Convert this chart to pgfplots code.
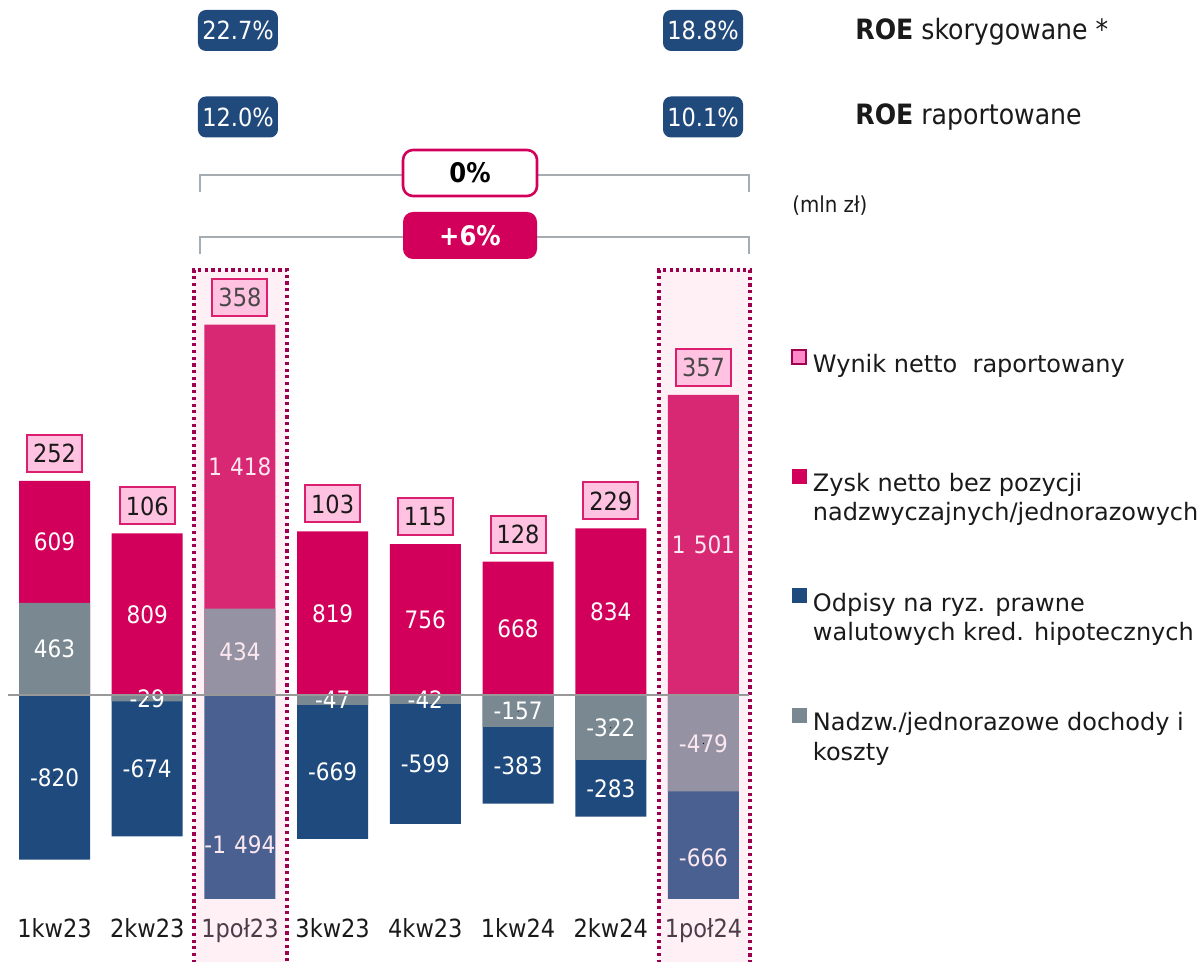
\documentclass[border=0pt]{standalone}
\usepackage{pgfplots}
\pgfplotsset{compat=1.18}
\usepackage{pgfplotstable}
\usepackage{fontspec}
\setmainfont{DejaVu Sans Condensed}
\newfontfamily\legfont{DejaVu Sans}

\definecolor{qPink}{HTML}{D2005A}
\definecolor{qGray}{HTML}{7A8891}
\definecolor{qBlue}{HTML}{1F4A7D}
\definecolor{hPink}{HTML}{D92873}
\definecolor{hGray}{HTML}{9593A3}
\definecolor{hBlue}{HTML}{4A6090}
\definecolor{hTxt}{HTML}{FCE8F0}
\definecolor{netFill}{HTML}{FFC2E1}
\definecolor{netDraw}{HTML}{DC1E6E}
\definecolor{hlFill}{HTML}{FFF0F6}
\definecolor{hlDot}{HTML}{9E0050}
\definecolor{roeBlue}{HTML}{214A7C}
\definecolor{brk}{HTML}{A5ADB2}
\definecolor{txt}{HTML}{1A1A1A}
\definecolor{halfTxt}{HTML}{4B3C48}
\definecolor{legW}{HTML}{FF88C8}
\definecolor{legWd}{HTML}{A0004F}
\definecolor{zeroLine}{HTML}{999999}

\pgfplotstableread{
x pink gray blue net
0 609 463 -820 252
1 809 -29 -674 106
3 819 -47 -669 103
4 756 -42 -599 115
5 668 -157 -383 128
6 834 -322 -283 229
}\quarters
\pgfplotstableread{
x pink gray blue net
2 1418 434 -1494 358
7 1501 -479 -666 357
}\halves

\pgfplotsset{
  netbox/.style={every node near coord/.append style={anchor=south, yshift=4pt,
      fill=netFill, draw=netDraw, line width=1pt, minimum width=27.5pt,
      minimum height=18.5pt, inner sep=0pt, text=txt,
      font=\fontsize{12.5}{14}\selectfont}},
  barlab/.style={only marks, mark=*, mark size=0.01pt,
      mark options={draw=none, fill=none}, forget plot,
      nodes near coords, point meta=explicit,
      every node near coord/.append style={anchor=center, text=#1,
      font=\fontsize{12}{14}\selectfont}},
  mybar/.style={ybar, bar width=35.5pt, bar shift=0pt, draw=none, fill=#1, forget plot},
}

\begin{document}
\begin{tikzpicture}
\begin{axis}[
  set layers,
  scale only axis, width=602pt, height=449.5pt,
  xmin=-0.588, xmax=12.399, ymin=-1016, ymax=3472.6,
  clip mode=individual,
  axis line style={draw=none}, major tick style={draw=none},
  ytick=\empty,
  xtick={0,1,2,3,4,5,6,7},
  xticklabels={1kw23,2kw23,\textcolor{halfTxt}{1poł23},3kw23,4kw23,1kw24,2kw24,\textcolor{halfTxt}{1poł24}},
  xticklabel style={anchor=base, yshift=-19.5pt, font=\fontsize{12.5}{15}\selectfont, text=txt},
  /pgf/number format/fixed,
  /pgf/number format/precision=0,
  /pgf/number format/1000 sep={\hspace{0.34em}},
  /pgf/number format/assume math mode=true,
  legend style={at={(axis cs:7.944,1731.6)}, anchor=north west, draw=none, fill=none,
    inner sep=0pt, outer sep=0pt, row sep=0pt, column sep=3pt,
    font=\legfont\fontsize{12}{15}\selectfont, text=txt,
    nodes={inner sep=0pt, outer sep=0pt, text height=10pt, text depth=4.6pt}},
  legend cell align=left,
]
% highlight boxes
\begin{pgfonlayer}{axis background}
\fill[hlFill] (axis cs:1.505,2124.5) rectangle (axis cs:2.508,-1335);
\fill[hlFill] (axis cs:6.520,2124.5) rectangle (axis cs:7.502,-1335);
\draw[hlDot, line width=1.6pt, dash pattern=on 1.6pt off 1.75pt]
  (axis cs:1.505,-1335) -- (axis cs:1.505,2124.5) -- (axis cs:2.508,2124.5) -- (axis cs:2.508,-1335);
\draw[hlDot, line width=1.6pt, dash pattern=on 1.6pt off 1.75pt]
  (axis cs:6.520,-1335) -- (axis cs:6.520,2124.5) -- (axis cs:7.502,2124.5) -- (axis cs:7.502,-1335);
\end{pgfonlayer}

% legend entries
\addlegendimage{legend image code/.code={\draw[fill=legW, draw=legWd, line width=1pt] (0pt,1.5pt) rectangle (7pt,8.5pt);}}
\addlegendentry{Wynik netto\ \ raportowany}
\addlegendimage{empty legend}\addlegendentry{}
\addlegendimage{empty legend}\addlegendentry{}
\addlegendimage{empty legend}\addlegendentry{}
\addlegendimage{legend image code/.code={\fill[qPink] (0pt,1.5pt) rectangle (7pt,8.5pt);}}
\addlegendentry{Zysk netto bez pozycji}
\addlegendimage{empty legend}\addlegendentry{nadzwyczajnych/jednorazowych}
\addlegendimage{empty legend}\addlegendentry{}
\addlegendimage{empty legend}\addlegendentry{}
\addlegendimage{legend image code/.code={\fill[qBlue] (0pt,1.5pt) rectangle (7pt,8.5pt);}}
\addlegendentry{Odpisy na ryz. prawne}
\addlegendimage{empty legend}\addlegendentry{walutowych kred. hipotecznych}
\addlegendimage{empty legend}\addlegendentry{}
\addlegendimage{empty legend}\addlegendentry{}
\addlegendimage{legend image code/.code={\fill[qGray] (0pt,1.5pt) rectangle (7pt,8.5pt);}}
\addlegendentry{Nadzw./jednorazowe dochody i}
\addlegendimage{empty legend}\addlegendentry{koszty}

% quarters bars
\addplot[mybar=qPink, nodes near coords, point meta=explicit, netbox]
  table[x=x, y expr={\thisrow{pink}+max(\thisrow{gray},0)}, meta=net] {\quarters};
\addplot[mybar=qBlue] table[x=x, y expr={\thisrow{blue}+min(\thisrow{gray},0)}] {\quarters};
\addplot[mybar=qGray] table[x=x, y=gray] {\quarters};
% half-year bars
\addplot[mybar=hPink, nodes near coords, point meta=explicit, netbox,
  every node near coord/.append style={text=black!72}]
  table[x=x, y expr={\thisrow{pink}+max(\thisrow{gray},0)}, meta=net] {\halves};
\addplot[mybar=hBlue] table[x=x, y expr={\thisrow{blue}+min(\thisrow{gray},0)}] {\halves};
\addplot[mybar=hGray] table[x=x, y=gray] {\halves};

% labels
\addplot[barlab=white] table[x=x, y expr={max(\thisrow{gray},0)+\thisrow{pink}/2}, meta=pink] {\quarters};
\addplot[barlab=white] table[x=x, y expr={\thisrow{gray}/2}, meta=gray] {\quarters};
\addplot[barlab=white] table[x=x, y expr={min(\thisrow{gray},0)+\thisrow{blue}/2}, meta=blue] {\quarters};
\addplot[barlab=hTxt] table[x=x, y expr={max(\thisrow{gray},0)+\thisrow{pink}/2}, meta=pink] {\halves};
\addplot[barlab=hTxt] table[x=x, y expr={\thisrow{gray}/2}, meta=gray] {\halves};
\addplot[barlab=hTxt] table[x=x, y expr={min(\thisrow{gray},0)+\thisrow{blue}/2}, meta=blue] {\halves};

% zero line
\draw[zeroLine, line width=1pt] (axis cs:-0.5016,0) -- (axis cs:7.491,0);

% ROE boxes
\tikzset{roe/.style={fill=roeBlue, text=white, rounded corners=4pt, minimum width=40pt,
  minimum height=20.5pt, inner sep=0pt, font=\fontsize{12.5}{14}\selectfont}}
\node[roe] at (axis cs:1.979,3320.3) {22.7\%};
\node[roe] at (axis cs:1.979,2888.4) {12.0\%};
\node[roe] at (axis cs:6.995,3320.3) {18.8\%};
\node[roe] at (axis cs:6.995,2888.4) {10.1\%};
\node[anchor=west, inner sep=0pt, text=txt, font=\fontsize{14}{16}\selectfont] at (axis cs:8.634,3312.9) {\textbf{ROE} skorygowane *};
\node[anchor=west, inner sep=0pt, text=txt, font=\fontsize{14}{16}\selectfont] at (axis cs:8.634,2888.4) {\textbf{ROE} raportowane};

% brackets
\draw[brk, line width=1pt] (axis cs:1.569,2514) -- (axis cs:1.569,2601) -- (axis cs:7.491,2601) -- (axis cs:7.491,2514);
\draw[brk, line width=1pt] (axis cs:1.569,2203) -- (axis cs:1.569,2289.3) -- (axis cs:7.491,2289.3) -- (axis cs:7.491,2203);
\node[fill=white, draw=qPink, line width=1.3pt, rounded corners=5pt, minimum width=67pt, minimum height=23pt,
  inner sep=0pt, font=\bfseries\fontsize{13.5}{16}\selectfont, text=black] at (axis cs:4.482,2608.8) {0\%};
\node[fill=qPink, rounded corners=5pt, minimum width=67pt, minimum height=23.5pt,
  inner sep=0pt, font=\bfseries\fontsize{13.5}{16}\selectfont, text=white] at (axis cs:4.482,2296.8) {+6\%};
\node[anchor=west, inner sep=0pt, text=txt, font=\fontsize{11}{13}\selectfont] at (axis cs:7.954,2444) {(mln zł)};

\coordinate (TL) at (axis cs:-0.588,3472.6);
\coordinate (BR) at (axis cs:12.399,-1330.6);
\end{axis}
\pgfresetboundingbox
\useasboundingbox (TL) rectangle (BR);
\end{tikzpicture}
\end{document}
